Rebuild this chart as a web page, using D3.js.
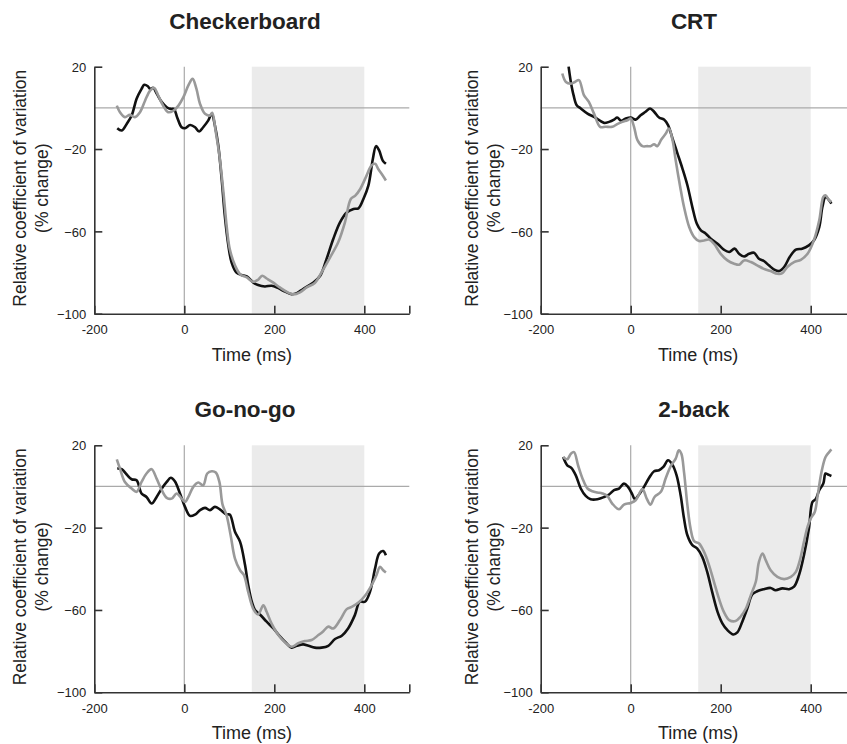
<!DOCTYPE html>
<html>
<head>
<meta charset="utf-8">
<script src="https://cdn.jsdelivr.net/npm/d3@7"></script>
<style>
  body { margin: 0; background: #fff; }
  svg text { font-family: "Liberation Sans", Arial, sans-serif; fill: #222; }
</style>
</head>
<body>
<svg id="chart" width="847" height="744"></svg>
<script>
// panel titles and axis setup
var titles = ["Checkerboard", "CRT", "Go-no-go", "2-back"];
var xTicks = [-200, 0, 200, 400];
var yTicks = [20, -20, -60, -100];
var shadeRange = [150, 400];

// [time ms, % change]
var checkerBlack = [[-149,-9.9],[-139,-11],[-128,-7.8],[-117,-3.7],[-106,4.4],[-95,9.2],[-89,11.2],[-81,10.5],[-76,9.2],[-69,9.7],[-61,6.8],[-50,2.8],[-39,0.3],[-30,-0.5],[-23,-0.5],[-16,-4.5],[-6,-9.4],[1.5,-9.9],[13,-8.3],[24,-9.4],[33,-11.5],[42,-9.4],[53,-6.2],[61,-2.9],[68,-8.6],[75.5,-18.3],[83,-34.5],[90,-52.4],[98,-67],[105,-75],[116,-80],[127,-81.2],[139,-81.9],[153,-84.8],[164,-86.1],[179,-86.8],[194,-86.4],[209,-87.6],[224,-89.3],[238,-90.5],[250,-90],[264,-88],[287,-84.8],[302,-81.6],[316,-73.5],[331,-63.7],[346,-55.6],[361,-50.8],[376,-49.1],[387,-48.8],[398,-44.3],[409,-37.8],[419,-24.8],[426,-18.6],[433,-20.7],[441,-25.6],[448,-27.2]];
var checkerGrey = [[-150,1.1],[-143,-2.1],[-132,-4.5],[-121,-3.4],[-110,-4.5],[-98.5,-2.1],[-87,3.6],[-76,8.4],[-67,9.7],[-58,6],[-47,1.1],[-36,-2.1],[-24,-1.3],[-13,1.1],[-2,5.2],[9,10.9],[18.5,14.1],[27,9.2],[35,1.9],[46,-2.9],[57,-3.7],[62,-2.4],[70,-11.8],[78,-23.2],[87,-41],[94,-57.2],[101,-68.6],[113,-76.7],[124,-80.8],[139,-82.4],[153,-84.5],[164,-83.5],[173,-81.6],[183,-82.9],[197,-84.8],[212,-87.2],[227,-89.3],[242,-90.6],[257,-89.6],[272,-87.2],[290,-85.1],[305,-79.9],[324,-72.6],[342,-65.3],[357,-55.6],[370,-44.3],[380,-42.6],[391,-39.4],[405,-32.9],[416,-28],[424,-27.2],[431,-29.7],[441,-32.9],[448,-35.3]];

var crtBlack = [[-138,20],[-133,12.6],[-127,6.2],[-120,1.3],[-111,-0.3],[-96,-2.8],[-81.5,-4.4],[-70,-6],[-59,-7.3],[-48,-6.8],[-37,-5.7],[-30,-4.7],[-21,-6.3],[-11,-5.2],[0,-4.7],[11,-5.7],[22,-3.6],[33,-1.9],[43,-0.3],[52,-1.9],[63,-4.7],[74,-5.7],[83,-8.4],[93,-14.9],[104,-22.2],[115,-29.5],[126,-37.6],[137,-48.2],[147,-56.3],[156,-59.5],[167,-61.1],[178,-63.6],[193,-66],[207,-68.9],[219,-70],[231,-68.4],[241,-70.9],[252,-72.2],[263,-70.9],[274,-70.4],[285,-73.3],[296,-74.4],[307,-76.5],[319,-78.6],[330,-79.3],[341,-77.3],[354,-72.2],[367,-68.9],[381,-68.4],[396,-66.8],[407,-64.4],[419,-57.9],[426,-48.2],[433,-43.3],[441,-44.9],[446,-46.5]];
var crtGrey = [[-152,16.7],[-144,12.6],[-133,11.8],[-124,12.6],[-115,13.5],[-104,6.2],[-93,2.9],[-81.5,-2.8],[-68,-9.2],[-55.5,-9.2],[-41,-9.2],[-30,-7.9],[-18.5,-6.8],[-7.4,-6],[0,-5.2],[7.4,-9.2],[15,-15.7],[26,-18.6],[37,-18.6],[44,-18.6],[52,-17.7],[59,-18.6],[68,-15.4],[78,-12.5],[85,-10],[93,-15.7],[100,-25.5],[110,-38.4],[118.5,-48.2],[130,-57.9],[141,-62.8],[152,-64.7],[163,-64.4],[174,-64],[185,-66],[200,-70.9],[215,-74.1],[230,-75.7],[241,-76.2],[252,-74.1],[267,-74.9],[281,-76.5],[296,-78.2],[311,-79.3],[326,-80.6],[337,-80.3],[348,-77.3],[363,-74.9],[378,-73.8],[393,-70.9],[407,-64.4],[419,-54.6],[428,-43.3],[433,-42.5],[441,-44.9],[446,-45.7]];

var gonogoBlack = [[-149,8.7],[-139,8.4],[-128,5.8],[-117,3.5],[-106,3],[-95,-3.4],[-84,-5.1],[-72.6,-8.3],[-61.5,-5.1],[-50,-1],[-39,2.2],[-30,4.2],[-21,2.5],[-9.6,-3.4],[1.5,-9.9],[12.6,-14.3],[23.7,-13.7],[35,-11.5],[46,-10.4],[57,-11.5],[68,-9.9],[79,-11.1],[94,-13.6],[101,-13.6],[112.6,-22],[124,-26.9],[135,-38.2],[142,-47.9],[150,-56],[157,-60],[168,-62.2],[183,-65.7],[198,-69],[213,-73],[227,-76.2],[238.5,-78.3],[250,-77.4],[264,-76.7],[276,-77.4],[290,-78.3],[305,-78.3],[320,-77.4],[335,-74.1],[350,-72.5],[364,-69],[379,-62.5],[390,-56],[401.5,-56],[412.6,-51.2],[424,-39.8],[433,-32.6],[442,-31.4],[448,-33.4]];
var gonogoGrey = [[-150,13.2],[-143,8.7],[-132,2.2],[-117,-1],[-106,-2.6],[-95,2.2],[-84,6.3],[-72.6,8.4],[-61.5,3.8],[-50,-1.8],[-39,-5.5],[-28,-5.9],[-17,-3.4],[-6,-5.9],[1.5,-7.5],[9,-5.1],[20,-0.2],[31,1.9],[42,0.6],[51,6.3],[61,7.4],[70,6.8],[78,2.2],[85,-8.8],[94,-14],[103,-23.7],[112.6,-35],[124,-40.7],[132.6,-43.1],[142,-51.2],[153,-59.3],[164,-62.2],[175.6,-57.7],[183,-60.9],[194,-66.6],[209,-72.2],[224,-75.8],[238.5,-77.9],[253,-76.2],[268,-75.1],[283,-74.6],[298,-72.2],[309,-70.3],[320,-68.1],[331,-69],[346,-64.9],[361,-59.6],[372,-58.5],[387,-56.4],[401.5,-53.1],[416,-48],[427,-43.1],[435,-39],[442,-40.7],[448,-41.8]];

var backBlack = [[-150,14.3],[-141,10.3],[-132,9],[-122,5.4],[-111,-1],[-100,-4.6],[-89,-6.2],[-74,-6.2],[-59,-5.1],[-48,-3.9],[-37,-1.8],[-26,-1],[-15,1.4],[-6,-0.2],[3.7,-3.9],[9,-6.2],[18.5,-3.9],[29.6,-0.2],[40.7,4.1],[52,7.4],[63,7.9],[72.6,9.5],[83,12.7],[92.6,10.6],[102,5.4],[111,-4.3],[118.5,-15.6],[126,-23.7],[137,-28.5],[148,-30.2],[159,-34.2],[170,-41.5],[181,-51.2],[193,-60.9],[204,-66.6],[215,-69.8],[228,-71.9],[237,-70.9],[248,-65.7],[259,-59.3],[270,-52.5],[281,-50.9],[296,-49.9],[311,-49.3],[322,-50.4],[337,-49.5],[352,-49.9],[363,-48.7],[374,-43.1],[385,-33.4],[396,-20.5],[404,-7.5],[411,-6.2],[419,-1.8],[428,1.4],[433,6.3],[438.5,5.8],[446,5.1]];
var backGrey = [[-150,14.3],[-141,13.2],[-133,15.9],[-126,16.7],[-117,10.3],[-107,3.8],[-96,-1],[-85,-2.3],[-74,-2.9],[-63,-3.4],[-52,-4.6],[-41,-8.3],[-26,-11.1],[-15,-8.8],[0,-8],[11,-6.7],[26,-1.3],[35.6,-5.9],[44,-8.8],[53,-5.1],[67,-2.6],[78,4.1],[89,9.9],[100,13.5],[107,17.6],[112.6,15.9],[118.5,7],[126,-9.1],[133,-20.4],[141,-26.6],[152,-27.7],[163,-31.8],[174,-38.2],[185,-46.3],[196,-54.4],[207,-60.9],[219,-64.9],[233,-65.4],[244,-63.3],[256,-59.3],[267,-52.8],[278,-46.3],[285,-36.6],[293,-32.6],[300,-35.8],[311,-40.7],[326,-43.9],[341,-45],[356,-43.9],[367,-41.5],[376,-35.8],[385,-26.9],[393,-19.6],[400,-15.6],[409,-12.4],[415,-5.1],[424,7],[433,14.3],[441,16.7],[446,18]];

var panelBlack = [checkerBlack, crtBlack, gonogoBlack, backBlack];
var panelGrey = [checkerGrey, crtGrey, gonogoGrey, backGrey];

// layout of the 2x2 grid
var W = 315, cols = [94.3, 540.7], rows = [66.7, 445.3], H = 247;
var titleX = [245, 694], titleGap = [38, 28];
var ylabX = [26, 478];

var svg = d3.select("#chart");

function drawPanel(i) {
  var c = i % 2, r = Math.floor(i / 2);
  var g = svg.append("g").attr("transform", "translate(" + cols[c] + "," + rows[r] + ")");

  var x = d3.scaleLinear().domain([-200, 500]).range([0, W]);
  var y = d3.scaleLinear().domain([-100, 20]).range([H, 0]);

  // shaded window
  g.append("rect")
    .attr("x", x(shadeRange[0]))
    .attr("y", y(20))
    .attr("width", x(shadeRange[1]) - x(shadeRange[0]))
    .attr("height", y(-100) - y(20))
    .attr("fill", "#ebebeb");

  // zero lines
  g.append("line")
    .attr("x1", x(-200)).attr("x2", x(500))
    .attr("y1", y(0)).attr("y2", y(0))
    .attr("stroke", "#aaa").attr("stroke-width", 1.2);
  g.append("line")
    .attr("x1", x(0)).attr("x2", x(0))
    .attr("y1", y(20)).attr("y2", y(-100))
    .attr("stroke", "#aaa").attr("stroke-width", 1.2);

  var line = d3.line()
    .x(function(d) { return x(d[0]); })
    .y(function(d) { return y(d[1]); })
    .curve(d3.curveCatmullRom.alpha(0.5));

  g.append("path")
    .datum(panelBlack[i])
    .attr("d", line)
    .attr("fill", "none")
    .attr("stroke", "#111")
    .attr("stroke-width", 2.6);

  g.append("path")
    .datum(panelGrey[i])
    .attr("d", line)
    .attr("fill", "none")
    .attr("stroke", "#999")
    .attr("stroke-width", 2.6);

  // axes, ticks point inward
  var xAxis = g.append("g")
    .attr("transform", "translate(0," + H + ")")
    .call(d3.axisBottom(x).tickValues(xTicks.concat([500])).tickSize(-8).tickSizeOuter(0).tickPadding(11)
      .tickFormat(function(d) { return d === 500 ? "" : d; }));
  var yAxis = g.append("g")
    .call(d3.axisLeft(y).tickValues(yTicks).tickSize(-8).tickSizeOuter(0).tickPadding(8));

  [xAxis, yAxis].forEach(function(a) {
    a.select(".domain").attr("stroke", "#333").attr("stroke-width", 1.6);
    a.selectAll(".tick line").attr("stroke", "#333").attr("stroke-width", 1.6);
    a.selectAll(".tick text").style("font-size", "13px").attr("fill", "#222");
  });
  yAxis.selectAll(".tick text").attr("dy", "0.36em");

  // title
  svg.append("text")
    .attr("x", titleX[c])
    .attr("y", rows[r] - titleGap[r])
    .attr("text-anchor", "middle")
    .style("font-size", "22.5px")
    .style("font-weight", "bold")
    .attr("fill", "#111")
    .text(titles[i]);

  // x label
  g.append("text")
    .attr("x", x(150))
    .attr("y", H + 47)
    .attr("text-anchor", "middle")
    .style("font-size", "18px")
    .text("Time (ms)");

  // y label in two lines
  var cy = rows[r] + H / 2 - 2;
  var yl = svg.append("text")
    .attr("transform", "translate(" + ylabX[c] + "," + cy + ") rotate(-90)")
    .attr("text-anchor", "middle")
    .style("font-size", "17.5px");
  yl.append("tspan").attr("x", 0).attr("y", 0).text("Relative coefficient of variation");
  yl.append("tspan").attr("x", 0).attr("y", 22).text("(% change)");
}

for (var i = 0; i < 4; i++) drawPanel(i);
</script>
</body>
</html>
